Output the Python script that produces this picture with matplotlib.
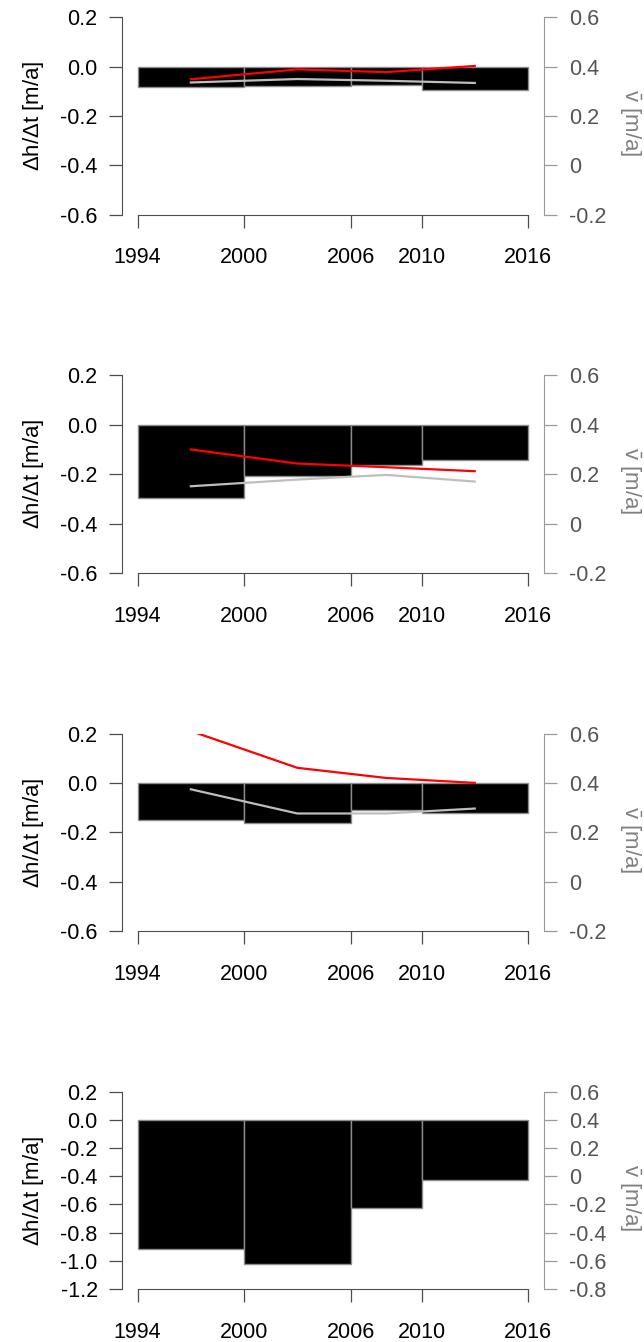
import numpy as np
import matplotlib
matplotlib.use("Agg")
import matplotlib.pyplot as plt

plt.rcParams['font.family'] = ['Liberation Sans', 'DejaVu Sans']
plt.rcParams['mathtext.fontset'] = 'custom'
plt.rcParams['mathtext.rm'] = 'Liberation Sans'
plt.rcParams['mathtext.it'] = 'Liberation Sans'

# periods of the elevation change estimates
period_edges = [1994, 2000, 2006, 2010, 2016]
mid_years = [1997, 2003, 2008, 2013]

# dh/dt per period [m/a], one list per panel
dhdt_1 = [-0.082, -0.077, -0.074, -0.096]
dhdt_2 = [-0.297, -0.207, -0.164, -0.141]
dhdt_3 = [-0.151, -0.164, -0.111, -0.122]
dhdt_4 = [-0.915, -1.021, -0.626, -0.424]

# mean velocities [m/a] (red and grey series)
v_red_1 = [0.349, 0.389, 0.378, 0.403]
v_red_2 = [0.300, 0.243, 0.228, 0.212]
v_red_3 = [0.610, 0.461, 0.420, 0.400]
v_grey_1 = [0.336, 0.350, 0.343, 0.334]
v_grey_2 = [0.151, 0.178, 0.197, 0.170]
v_grey_3 = [0.374, 0.276, 0.276, 0.296]

panels = [
    (dhdt_1, v_red_1, v_grey_1, (-0.6, 0.2), (-0.2, 0.6)),
    (dhdt_2, v_red_2, v_grey_2, (-0.6, 0.2), (-0.2, 0.6)),
    (dhdt_3, v_red_3, v_grey_3, (-0.6, 0.2), (-0.2, 0.6)),
    (dhdt_4, None, None, (-1.2, 0.2), (-0.8, 0.6)),
]

W, H = 644, 1342
fig = plt.figure(figsize=(W / 100, H / 100), dpi=100)

FS = 15.5
LFS = 16
AX_COL = '#4d4d4d'
R_COL = '#9a9a9a'
R_TXT = '#555555'


def fmt_left(t):
    return f"{t:.1f}"


def fmt_right(t):
    return "0" if abs(t) < 1e-9 else f"{t:.1f}"


for i, (dh, vr, vg, ylim_l, ylim_r) in enumerate(panels):
    top_px = 17.3 + 358.1 * i
    h_px = 197.5
    ax = fig.add_axes([122 / W, 1 - (top_px + h_px) / H, 421.6 / W, h_px / H])
    ax.set_xlim(1993.12, 2016.88)
    ax.set_ylim(*ylim_l)

    widths = np.diff(period_edges)
    ax.bar(period_edges[:-1], dh, width=widths, align='edge', color='black',
           edgecolor='#8c8c8c', linewidth=1.0, zorder=2)

    for s in ['top', 'right']:
        ax.spines[s].set_visible(False)
    ax.spines['left'].set_color(AX_COL)
    ax.spines['bottom'].set_color(AX_COL)
    ax.spines['bottom'].set_bounds(1994, 2016)

    n = int(round((ylim_l[1] - ylim_l[0]) / 0.2)) + 1
    lt = np.round(np.linspace(ylim_l[0], ylim_l[1], n), 1) + 0.0
    ax.set_yticks(lt)
    ax.set_yticklabels([fmt_left(t) for t in lt])
    ax.set_xticks(period_edges)
    ax.set_xticklabels([str(y) for y in period_edges])
    ax.tick_params(axis='both', direction='out', length=9.5, width=0.9,
                   color=AX_COL, labelsize=FS, labelcolor='black')
    ax.tick_params(axis='y', pad=8)
    ax.tick_params(axis='x', pad=14)
    ax.set_ylabel(r'$\Delta$h/$\Delta$t [m/a]', fontsize=LFS)
    ax.yaxis.set_label_coords(-0.18, 0.5)

    ax2 = ax.twinx()
    ax2.set_ylim(*ylim_r)
    for s in ['top', 'left', 'bottom']:
        ax2.spines[s].set_visible(False)
    ax2.spines['right'].set_color(R_COL)
    rt = np.round(np.linspace(ylim_r[0], ylim_r[1], n), 1) + 0.0
    ax2.set_yticks(rt)
    ax2.set_yticklabels([fmt_right(t) for t in rt])
    ax2.tick_params(axis='y', direction='out', length=9.5, width=0.9,
                    color=R_COL, labelsize=FS, labelcolor=R_TXT, pad=9)
    ax2.set_ylabel(r'$\bar{v}$ [m/a]', fontsize=LFS, color='#808080',
                   rotation=270, va='center')
    ax2.yaxis.set_label_coords(1.205, 0.465)

    if vr is not None:
        ax2.plot(mid_years, vg, color='#bebebe', lw=1.6, zorder=3)
        ax2.plot(mid_years, vr, color='#ff0000', lw=1.6, zorder=4)

fig.savefig('out.png', dpi=100)
